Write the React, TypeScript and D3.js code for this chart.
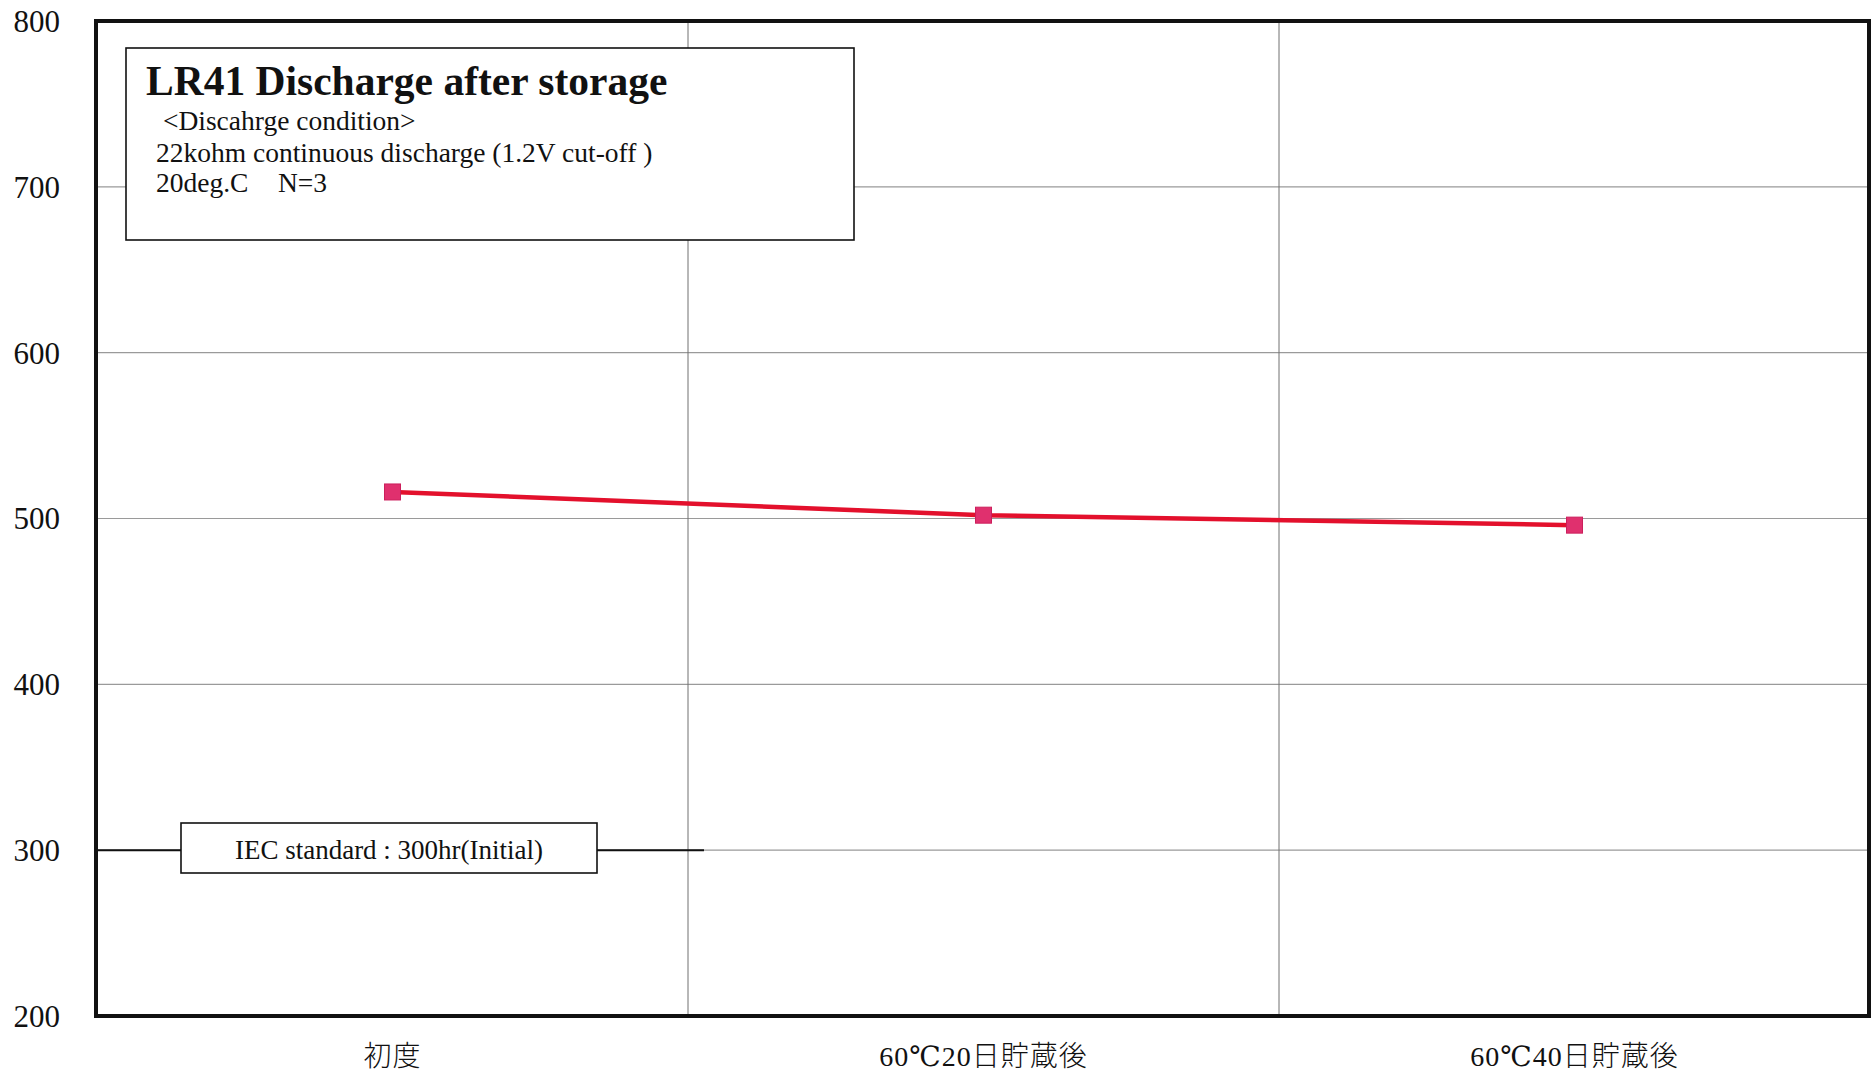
import React from "react";
import * as d3 from "d3";

const categories = ["初度", "60℃20日貯蔵後", "60℃40日貯蔵後"];
const values = [516, 502, 496];
const yTicks = [200, 300, 400, 500, 600, 700, 800];
const standardValue = 300;
const titleText = "LR41 Discharge after storage";
const conditionLines = [" <Discahrge condition>", "22kohm continuous discharge (1.2V cut-off )"];
const tempText = "20deg.C";
const nText = "N=3";
const standardText = "IEC standard : 300hr(Initial)";

const W = 1872;
const H = 1075;
const left = 96;
const right = 1869;
const top = 21;
const bottom = 1016;

const serif = "'Liberation Serif', 'Times New Roman', serif";
const cjkFont = "'Noto Sans CJK JP', serif";
const degFont = "'DejaVu Serif', 'Noto Sans CJK JP', serif";

function runs(label: string) {
  const out: { t: string; f: string }[] = [];
  for (const ch of label) {
    const f = /[0-9A-Za-z]/.test(ch) ? serif : ch === "℃" ? degFont : cjkFont;
    if (out.length && out[out.length - 1].f === f) out[out.length - 1].t += ch;
    else out.push({ t: ch, f });
  }
  return out;
}

export default function App() {
  const x = d3.scaleBand<string>().domain(categories).range([left + 1, right + 1]);
  const y = d3.scaleLinear().domain([200, 800]).range([bottom, top]);
  const cx = (c: string) => (x(c) as number) + x.bandwidth() / 2;
  const line = d3
    .line<number>()
    .x((_, i) => cx(categories[i]))
    .y((v) => y(v));
  const boundaries = categories.slice(1).map((c) => x(c) as number);
  const ms = 16;

  return (
    <svg
      width={W}
      height={H}
      style={{ position: "absolute", left: 0, top: 0, background: "#fff" }}
      fontFamily={serif}
    >
      <rect x={0} y={0} width={W} height={H} fill="#fff" />
      {yTicks.slice(1, -1).map((t) => (
        <line key={t} x1={left} x2={right} y1={y(t)} y2={y(t)} stroke="#9a9a9a" strokeWidth={1.2} />
      ))}
      {boundaries.map((b, i) => (
        <line key={i} x1={b} x2={b} y1={top} y2={bottom} stroke="#707070" strokeWidth={1} />
      ))}
      <line x1={left} x2={704} y1={y(standardValue)} y2={y(standardValue)} stroke="#111" strokeWidth={2} />
      <rect x={left} y={top} width={right - left} height={bottom - top} fill="none" stroke="#111" strokeWidth={4} />
      {yTicks.map((t) => (
        <text key={t} x={60} y={y(t)} dy="0.35em" textAnchor="end" fontSize={31} fill="#111">
          {t}
        </text>
      ))}
      {categories.map((c) => (
        <text key={c} x={cx(c)} y={1066} textAnchor="middle" fontSize={28} fill="#111" letterSpacing={1}>
          {runs(c).map((r, i) => (
            <tspan key={i} fontFamily={r.f} fontWeight={r.f === cjkFont ? 300 : 400}>
              {r.t}
            </tspan>
          ))}
        </text>
      ))}
      <path d={line(values) as string} fill="none" stroke="#e3102c" strokeWidth={4.5} />
      {values.map((v, i) => (
        <rect
          key={i}
          x={cx(categories[i]) - ms / 2}
          y={y(v) - ms / 2}
          width={ms}
          height={ms}
          fill="#e0306e"
          stroke="#cc1f5c"
          strokeWidth={1}
        />
      ))}
      <rect x={126} y={48} width={728} height={192} fill="#fff" stroke="#111" strokeWidth={1.6} />
      <text x={146} y={95} fontSize={41.5} fontWeight="bold" fill="#111">
        {titleText}
      </text>
      <text x={156} y={130} fontSize={27.5} fill="#111" style={{ whiteSpace: "pre" }}>
        {conditionLines[0]}
      </text>
      <text x={156} y={162} fontSize={27.5} fill="#111">
        {conditionLines[1]}
      </text>
      <text x={156} y={192} fontSize={27.5} fill="#111">
        {tempText}
      </text>
      <text x={278} y={192} fontSize={27.5} fill="#111">
        {nText}
      </text>
      <rect x={181} y={823} width={416} height={50} fill="#fff" stroke="#111" strokeWidth={1.6} />
      <text x={389} y={859} textAnchor="middle" fontSize={27} fill="#111">
        {standardText}
      </text>
    </svg>
  );
}
